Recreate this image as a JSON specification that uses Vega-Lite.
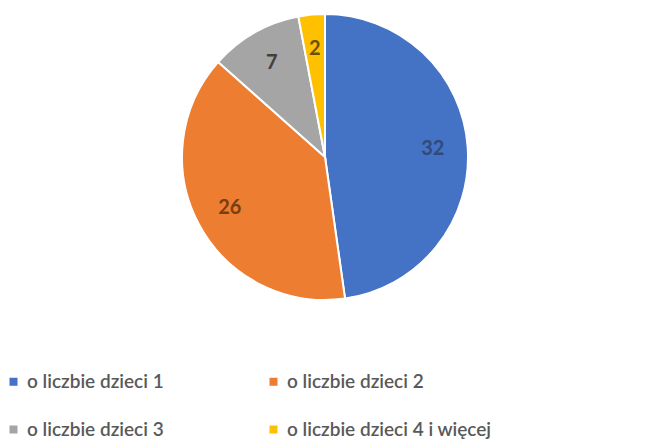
{
  "$schema": "https://vega.github.io/schema/vega-lite/v6.json",
  "width": 650,
  "height": 314,
  "autosize": {"type": "none"},
  "padding": {"left": 0, "top": 0, "right": 7, "bottom": 134},
  "background": "white",
  "data": {
    "values": [
      {"kategoria": "o liczbie dzieci 1", "liczba": 32, "kolejnosc": 1},
      {"kategoria": "o liczbie dzieci 2", "liczba": 26, "kolejnosc": 2},
      {"kategoria": "o liczbie dzieci 3", "liczba": 7, "kolejnosc": 3},
      {"kategoria": "o liczbie dzieci 4 i więcej", "liczba": 2, "kolejnosc": 4}
    ]
  },
  "encoding": {
    "theta": {"field": "liczba", "type": "quantitative", "stack": true},
    "order": {"field": "kolejnosc", "type": "quantitative"}
  },
  "layer": [
    {
      "mark": {"type": "arc", "outerRadius": 143, "stroke": "white", "strokeWidth": 2},
      "encoding": {
        "color": {
          "field": "kategoria",
          "type": "nominal",
          "sort": ["o liczbie dzieci 1", "o liczbie dzieci 2", "o liczbie dzieci 3", "o liczbie dzieci 4 i więcej"],
          "scale": {
            "domain": ["o liczbie dzieci 1", "o liczbie dzieci 2", "o liczbie dzieci 3", "o liczbie dzieci 4 i więcej"],
            "range": ["#4472c4", "#ed7d31", "#a5a5a5", "#ffc000"]
          },
          "legend": {
            "title": null,
            "orient": "none",
            "legendX": 4,
            "legendY": 372,
            "direction": "horizontal",
            "columns": 2,
            "columnPadding": 100,
            "rowPadding": 28,
            "symbolType": "square",
            "symbolSize": 64,
            "symbolStrokeWidth": 0,
            "labelFont": "Lato",
            "labelFontSize": 19,
            "labelFontWeight": 600,
            "labelColor": "#595959",
            "labelOffset": 4,
            "labelLimit": 400
          }
        }
      }
    },
    {
      "mark": {"type": "text", "radius": 108, "font": "Lato", "fontSize": 20, "fontWeight": "bold"},
      "encoding": {
        "text": {"field": "liczba", "type": "quantitative"},
        "color": {
          "field": "kategoria",
          "type": "nominal",
          "scale": {
            "domain": ["o liczbie dzieci 1", "o liczbie dzieci 2", "o liczbie dzieci 3", "o liczbie dzieci 4 i więcej"],
            "range": ["#2f4b7c", "#7a3d12", "#404040", "#6b5200"]
          },
          "legend": null
        }
      }
    }
  ],
  "resolve": {"scale": {"color": "independent"}},
  "config": {"view": {"stroke": null}}
}
